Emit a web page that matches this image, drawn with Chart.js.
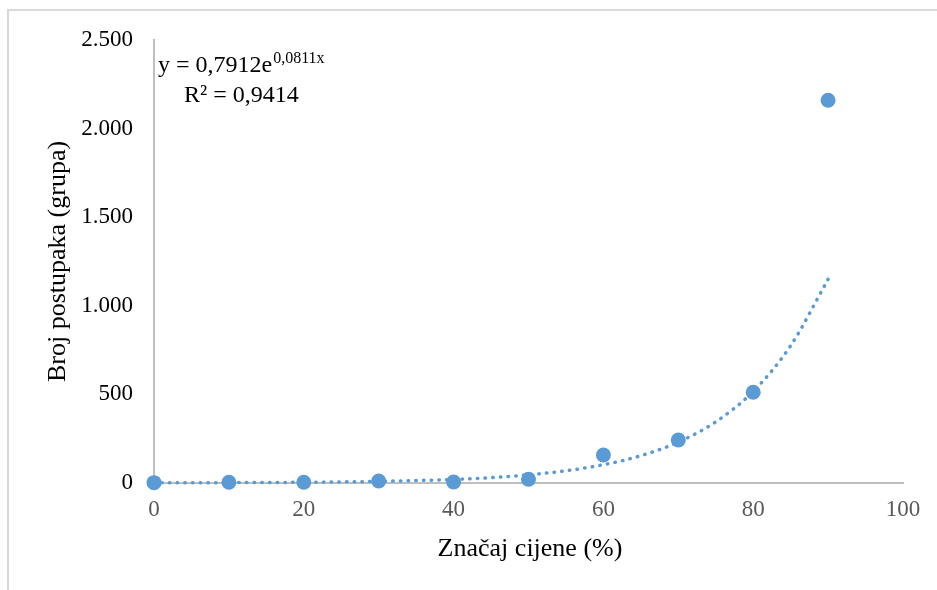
<!DOCTYPE html>
<html>
<head>
<meta charset="utf-8">
<script src="https://cdn.jsdelivr.net/npm/chart.js@4/dist/chart.umd.min.js"></script>
<style>
  html, body { margin: 0; padding: 0; background: #fff; }
  #frame { position: absolute; left: 7px; top: 9px; width: 930px; height: 581px;
           border-left: 2px solid #d9d9d9; border-top: 2px solid #d9d9d9; box-sizing: border-box; }
  #wrap { position: absolute; left: 0; top: 0; width: 937px; height: 590px; }
</style>
</head>
<body>
<div id="frame"></div>
<div id="wrap"><canvas id="chart" width="937" height="590"></canvas></div>
<script>
// Značaj cijene (%) vs broj postupaka
const xValues = [0, 10, 20, 30, 40, 50, 60, 70, 80, 90];
const groupCounts = [2, 4, 4, 11, 6, 21, 158, 243, 512, 2160];

// exponential trendline
const trendX = [0, 5, 10, 15, 20, 25, 30, 35, 40, 45, 50, 55, 60, 65, 70, 75, 80, 85, 90];
const trendY = [1, 1, 2, 3, 4, 6, 9, 14, 20, 30, 46, 69, 103, 154, 231, 345, 517, 775, 1150];

const xTicks = [0, 20, 40, 60, 80, 100];
const yTicks = [0, 500, 1000, 1500, 2000, 2500];

const blue = '#5B9BD5';
const serif = "'Liberation Serif', 'Times New Roman', serif";

function fmt(v) {
  return String(v).replace(/\B(?=(\d{3})+(?!\d))/g, '.');
}

const textPlugin = {
  id: 'texts',
  afterDraw(chart) {
    const ctx = chart.ctx;
    const area = chart.chartArea;
    ctx.save();
    ctx.fillStyle = '#000';
    ctx.textBaseline = 'alphabetic';

    // axis titles
    ctx.font = '26px ' + serif;
    ctx.textAlign = 'center';
    ctx.fillText('Značaj cijene (%)', 530, 556);
    ctx.save();
    ctx.translate(65, (area.top + area.bottom) / 2);
    ctx.rotate(-Math.PI / 2);
    ctx.fillText('Broj postupaka (grupa)', 0, 0);
    ctx.restore();

    // trendline equation
    ctx.textAlign = 'left';
    ctx.font = '24px ' + serif;
    const main = 'y = 0,7912e';
    ctx.fillText(main, 158, 72);
    const w = ctx.measureText(main).width;
    ctx.font = '16px ' + serif;
    ctx.fillText('0,0811x', 158 + w + 1, 63);
    ctx.font = '24px ' + serif;
    ctx.fillText('R² = 0,9414', 184, 102);
    ctx.restore();
  }
};

new Chart(document.getElementById('chart').getContext('2d'), {
  type: 'scatter',
  data: {
    datasets: [
      {
        label: 'Broj postupaka',
        data: xValues.map((x, i) => ({ x: x, y: groupCounts[i] })),
        backgroundColor: blue,
        borderColor: blue,
        pointRadius: 7.5,
        pointBorderWidth: 0,
        showLine: false,
        clip: false,
        order: 0
      },
      {
        label: 'Trend',
        data: trendX.map((x, i) => ({ x: x, y: trendY[i] })),
        showLine: true,
        borderColor: blue,
        borderWidth: 3.5,
        borderDash: [0.5, 7.2],
        borderCapStyle: 'round',
        cubicInterpolationMode: 'monotone',
        pointRadius: 0,
        clip: false,
        order: 1
      }
    ]
  },
  options: {
    responsive: false,
    animation: false,
    layout: { padding: { left: 0, right: 34, top: 40, bottom: 0 } },
    plugins: { legend: { display: false }, tooltip: { enabled: false } },
    scales: {
      x: {
        type: 'linear',
        min: 0,
        max: 100,
        afterFit: s => { s.height = 107; },
        afterBuildTicks: s => { s.ticks = xTicks.map(v => ({ value: v })); },
        grid: { display: false, drawTicks: false },
        border: { display: true, color: '#bfbfbf', width: 2 },
        ticks: { color: '#595959', padding: 13, font: { family: serif, size: 23 } }
      },
      y: {
        type: 'linear',
        min: 0,
        max: 2500,
        afterFit: s => { s.width = 154; },
        afterBuildTicks: s => { s.ticks = yTicks.map(v => ({ value: v })); },
        grid: { display: false, drawTicks: false },
        border: { display: true, color: '#bfbfbf', width: 2 },
        ticks: { color: '#000', padding: 21, font: { family: serif, size: 23 }, callback: v => fmt(v) }
      }
    }
  },
  plugins: [textPlugin]
});
</script>
</body>
</html>
